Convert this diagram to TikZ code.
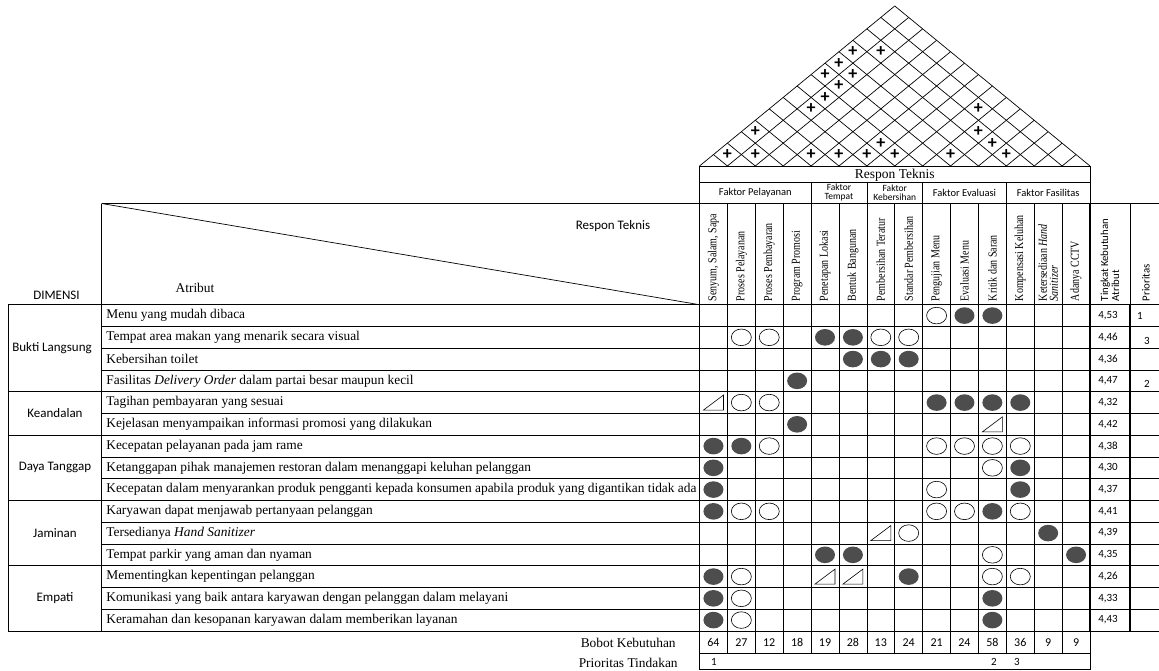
\documentclass[tikz,border=0pt]{standalone}
\usepackage{fontspec}
\setmainfont{Liberation Serif}
\newfontfamily\calib{Carlito}
\newfontfamily\narrowserif[FakeStretch=0.82]{Liberation Serif}
\definecolor{symgray}{RGB}{77,77,77}

\begin{document}
\begin{tikzpicture}[x=1pt, y=-1pt, line width=0.7pt,
    every node/.style={inner sep=0pt},
    attr/.style={anchor=west, font=\fontsize{13.4}{15}\selectfont},
    sans/.style={font=\calib\fontsize{13}{14}\selectfont},
    val/.style={font=\calib\fontsize{11}{13}\selectfont},
    grp/.style={font=\calib\fontsize{10.5}{10}\selectfont, align=center},
    colhead/.style={rotate=90, anchor=west, align=left, font=\narrowserif\fontsize{12.2}{11}\selectfont},
    plus/.style={font=\calib\bfseries\fontsize{18}{18}\selectfont},
    strong/.style={fill=symgray},
    medium/.style={draw, fill=white, line width=0.6pt},
    weak/.style={draw, line width=0.6pt},
    heavy/.style={line width=1.8pt}]
    \useasboundingbox (0,0) rectangle (1159,670);
    \def\bx{699.5} \def\cw{27.893} \def\ry{304.7} \def\rh{21.75} \def\roofy{166} \def\sl{0.8195}

    % roof
    \foreach \k in {0,...,14}{
        \draw ({\bx+\k*\cw},\roofy) -- ++({(14-\k)*\cw/2},{-(14-\k)*\cw/2*\sl});
        \draw ({\bx+\k*\cw},\roofy) -- ++({-\k*\cw/2},{-\k*\cw/2*\sl});
    }
    \foreach \i/\j in {1/2,2/3,4/5,5/6,6/7,7/8,9/10,11/12,6/8,10/12,1/4,9/12,2/7,8/13,2/8,2/9,1/9,2/10,1/10,1/11,2/12}
        \node[plus] (p\i-\j) at ({\bx+((\i+\j)/2-0.5)*\cw}, {\roofy-\sl*\cw*(\j-\i)/2}) {+};

    % header lines
    \draw (\bx,\roofy) -- (1090,\roofy);
    \draw (\bx,182) -- (1090,182);
    \draw (101.7,203.5) -- (1159,203.5);
    \foreach \k in {0,14} \draw ({\bx+\k*\cw},\roofy) -- ({\bx+\k*\cw},203.5);
    \foreach \k in {4,6,8,11} \draw ({\bx+\k*\cw},182) -- ({\bx+\k*\cw},203.5);
    \draw (101.7,203.5) -- (101.7,631);
    \draw (101.7,203.5) -- (\bx,\ry);
    \draw (8.3,\ry) -- (8.3,631);

    % matrix grid
    \foreach \k in {0,...,13} \draw ({\bx+\k*\cw},203.5) -- ({\bx+\k*\cw},653);
    \draw (\bx,653) -- (\bx,669) -- (1090,669) -- (1090,631);
    \draw (\bx,653) -- (1090,653);
    \foreach \r in {0,...,15} \draw (101.7,{\ry+\r*\rh}) -- (1159,{\ry+\r*\rh});
    \foreach \r in {4,6,9,12} \draw (8.3,{\ry+\r*\rh}) -- (101.7,{\ry+\r*\rh});
    \draw (8.3,\ry) -- (101.7,\ry);
    \draw (8.3,631) -- (101.7,631);
    \draw[heavy] (1090,203.5) -- (1090,631);
    \draw (1130,203.5) -- (1130,\ry);
    \draw[heavy] (1130,\ry) -- (1130,631);

    % relationship symbols
    \foreach \r/\c in {1/10,1/11,2/5,2/6,3/6,3/7,3/8,4/4,5/9,5/10,5/11,5/12,6/4,7/1,7/2,8/1,8/12,9/1,9/12,10/1,10/11,11/13,12/5,12/6,12/14,13/1,13/8,14/1,14/11,15/1,15/11}
        \fill[strong] ({\bx+(\c-0.5)*\cw},{\ry+(\r-0.5)*\rh}) ellipse (10pt and 8.3pt);
    \foreach \r/\c in {1/9,2/2,2/3,2/7,2/8,5/2,5/3,7/3,7/9,7/10,7/11,7/12,8/11,9/9,10/2,10/3,10/9,10/10,10/12,11/8,12/11,13/2,13/11,13/12,14/2,15/2}
        \draw[medium] ({\bx+(\c-0.5)*\cw},{\ry+(\r-0.5)*\rh}) ellipse (10pt and 8.3pt);
    \foreach \r/\c in {5/1,6/11,11/7,13/5,13/6}
        \draw[weak, shift={({\bx+(\c-0.5)*\cw},{\ry+(\r-0.5)*\rh})}] (-10,7.5) -- (10,7.5) -- (10,-7.5) -- cycle;

    % labels
    \node[font=\fontsize{13.5}{15}\selectfont] (rtop) at (894.75,175) {Respon Teknis};
    \node[grp] (fpel) at ({\bx+2*\cw},192.8) {Faktor Pelayanan};
    \node[grp, font=\calib\fontsize{9.5}{9.5}\selectfont] (ftem) at ({\bx+5*\cw},192.5) {Faktor\\Tempat};
    \node[grp, font=\calib\fontsize{9.5}{9.5}\selectfont] (fkeb) at ({\bx+7*\cw},192.5) {Faktor\\Kebersihan};
    \node[grp] (feva) at ({\bx+9.5*\cw},192.8) {Faktor Evaluasi};
    \node[grp] (ffas) at ({\bx+12.5*\cw},192.8) {Faktor Fasilitas};

    \foreach \t [count=\i] in {{Senyum, Salam, Sapa},Proses Pelayanan,Proses Pembayaran,Program Promosi,Penetapan Lokasi,Bentuk Bangunan,Pembersihan Teratur,Standar Pembersihan,Pengujian Menu,Evaluasi Menu,Kritik dan Saran,Kompensasi Keluhan,Ketersediaan \textit{Hand}\\\textit{Sanitizer},Adanya CCTV}
        \node[colhead] (col\i) at ({\bx+(\i-0.5)*\cw},301.5) {\t};
    \node[colhead, font=\calib\fontsize{10.8}{11}\selectfont] (tkahead) at (1110,301.5) {Tingkat Kebutuhan\\Atribut};
    \node[colhead, font=\calib\fontsize{10.8}{11}\selectfont] (prihead) at (1146,301.5) {Prioritas};

    \node[sans] (rtleft) at (613,226) {Respon Teknis};
    \node[font=\fontsize{13.4}{15}\selectfont] (atrlbl) at (195,288) {Atribut};
    \node[sans] (dimlbl) at (56.5,295) {DIMENSI};

    \foreach \t [count=\i] in {Menu yang mudah dibaca,Tempat area makan yang menarik secara visual,Kebersihan toilet,Fasilitas \textit{Delivery Order} dalam partai besar maupun kecil,Tagihan pembayaran yang sesuai,Kejelasan menyampaikan informasi promosi yang dilakukan,Kecepatan pelayanan pada jam rame,Ketanggapan pihak manajemen restoran dalam menanggapi keluhan pelanggan,Kecepatan dalam menyarankan produk pengganti kepada konsumen apabila produk yang digantikan tidak ada,Karyawan dapat menjawab pertanyaan pelanggan,Tersedianya \textit{Hand Sanitizer},Tempat parkir yang aman dan nyaman,Mementingkan kepentingan pelanggan,Komunikasi yang baik antara karyawan dengan pelanggan dalam melayani,Keramahan dan kesopanan karyawan dalam memberikan layanan}
        \node[attr] (att\i) at (106,{\ry+(\i-0.5)*\rh}) {\t};

    \node[sans] (dim1) at (52,{\ry+2*\rh}) {Bukti Langsung};
    \node[sans] (dim2) at (55,{\ry+5*\rh}) {Keandalan};
    \node[sans] (dim3) at (55,{\ry+7.5*\rh}) {Daya Tanggap};
    \node[sans] (dim4) at (55,{\ry+10.5*\rh}) {Jaminan};
    \node[sans] (dim5) at (55,{\ry+13.5*\rh}) {Empati};

    \foreach \v [count=\i] in {{4,53},{4,46},{4,36},{4,47},{4,32},{4,42},{4,38},{4,30},{4,37},{4,41},{4,39},{4,35},{4,26},{4,33},{4,43}}
        \node[val] (tka\i) at (1108,{\ry+(\i-0.5)*\rh}) {\v};
    \node[val] (pri1) at (1140,315.5) {1};
    \node[val] (pri3) at (1147,341) {3};
    \node[val] (pri2) at (1147,384) {2};

    \foreach \v [count=\i] in {64,27,12,18,19,28,13,24,21,24,58,36,9,9}
        \node[val, font=\calib\fontsize{12}{13}\selectfont] (bob\i) at ({\bx+(\i-0.5)*\cw},642.5) {\v};
    \node[val] (pt1) at (714,662) {1};
    \node[val] (pt2) at (994,662) {2};
    \node[val] (pt3) at (1017,662) {3};
    \node[anchor=east, font=\fontsize{13.4}{15}\selectfont] (boblbl) at (676,643) {Bobot Kebutuhan};
    \node[anchor=east, font=\fontsize{13.4}{15}\selectfont] (ptlbl) at (678,663) {Prioritas Tindakan};
\end{tikzpicture}
\end{document}
